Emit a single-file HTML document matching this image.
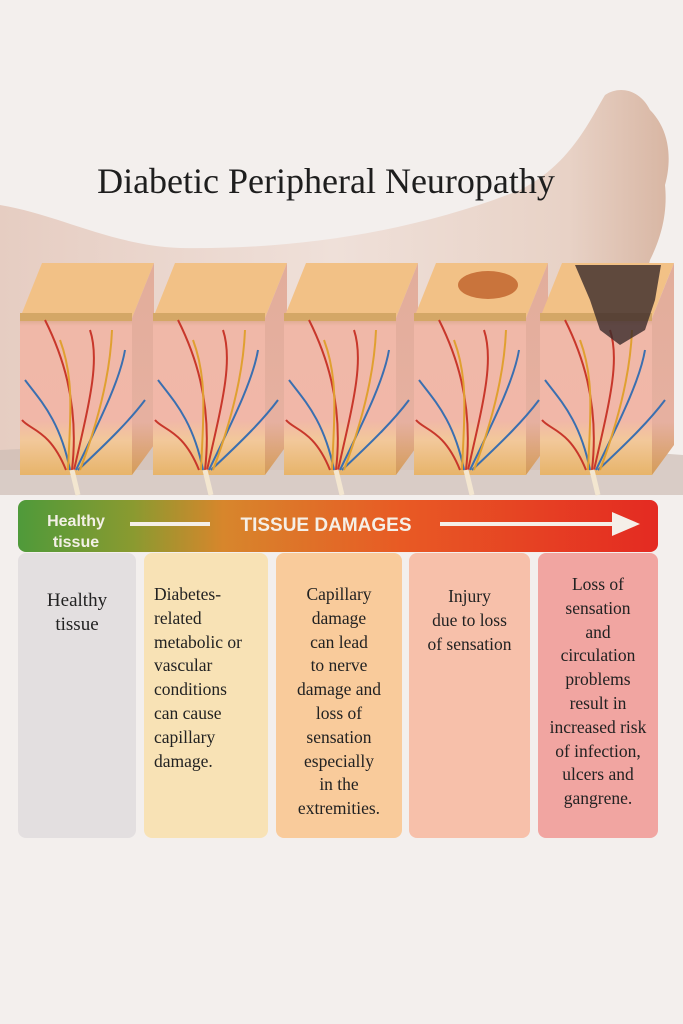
<!DOCTYPE html>
<html><head><meta charset="utf-8"><style>
html,body{margin:0;padding:0}
body{width:683px;height:1024px;background:#f3efed;position:relative;overflow:hidden;font-family:"Liberation Serif",serif}
.col{position:absolute;top:553px;height:285px;border-radius:8px;color:#222;font-size:17.5px;line-height:23.8px;text-align:center;box-sizing:border-box}
.col div{position:absolute;left:0;right:0}
</style></head><body>
<svg width="683" height="1024" style="position:absolute;left:0;top:0">
<defs>
<linearGradient id="skin" x1="0" y1="0" x2="1" y2="0"><stop offset="0" stop-color="#e6cdc2"/><stop offset="0.5" stop-color="#efe0d9"/><stop offset="0.85" stop-color="#e8d2c6"/><stop offset="1" stop-color="#d8b6a3"/></linearGradient>
<linearGradient id="front" x1="0" y1="0" x2="0" y2="1"><stop offset="0" stop-color="#d9a78a"/><stop offset="0.05" stop-color="#f0b8a8"/><stop offset="0.65" stop-color="#f1b7a8"/><stop offset="0.78" stop-color="#f2c89a"/><stop offset="1" stop-color="#e7b46a"/></linearGradient>
<linearGradient id="side" x1="0" y1="0" x2="0" y2="1"><stop offset="0" stop-color="#e2ad9b"/><stop offset="0.75" stop-color="#e6b0a0"/><stop offset="1" stop-color="#d49c58"/></linearGradient>
<linearGradient id="bar" x1="0" y1="0" x2="1" y2="0"><stop offset="0" stop-color="#4f9a3a"/><stop offset="0.18" stop-color="#8a9a30"/><stop offset="0.32" stop-color="#d7862c"/><stop offset="0.6" stop-color="#e85a24"/><stop offset="1" stop-color="#e42a22"/></linearGradient>
<g id="ves" fill="none" stroke-width="2">
<path d="M70 470 C60 420 40 400 25 380" stroke="#3a6fb0"/>
<path d="M72 470 C80 400 60 350 45 320" stroke="#c8372b"/>
<path d="M74 470 C90 400 100 360 90 330" stroke="#c8372b"/>
<path d="M76 470 C100 420 120 380 125 350" stroke="#3a6fb0"/>
<path d="M78 470 C110 440 130 420 145 400" stroke="#3a6fb0"/>
<path d="M68 470 C70 420 75 380 60 340" stroke="#e0a030"/>
<path d="M80 470 C95 430 110 380 112 330" stroke="#e0a030"/>
<path d="M66 470 C50 430 30 430 22 420" stroke="#c8372b"/>
<path d="M72 470 L78 495" stroke="#f3e6d0" stroke-width="5"/>
</g>
</defs>
<path d="M0 205 C60 215 110 245 180 248 C300 250 420 230 520 190 C570 165 590 120 605 95 C620 85 640 90 650 110 C670 130 672 160 665 185 C668 215 660 240 650 260 L640 300 L640 470 L0 470 Z" fill="url(#skin)"/>
<path d="M0 450 C200 440 480 440 683 455 L683 495 L0 495 Z" fill="#cdbdb5" opacity="0.7"/>
<text x="326" y="193" text-anchor="middle" font-family="Liberation Serif, serif" font-size="36" fill="#1e1e1e">Diabetic Peripheral Neuropathy</text>
<g id="b1">
<polygon points="20,318 42,263 154,263 132,318" fill="#f2c186"/>
<polygon points="132,318 154,263 154,445 132,475" fill="url(#side)"/>
<rect x="20" y="318" width="112" height="157" fill="url(#front)"/>
<rect x="20" y="313" width="112" height="8" fill="#d4a766"/>
<use href="#ves"/>
</g>
<use href="#b1" x="133"/>
<use href="#b1" x="264"/>
<use href="#b1" x="394"/>
<use href="#b1" x="520"/>
<ellipse cx="488" cy="285" rx="30" ry="14" fill="#b8521c" opacity="0.7"/>
<path d="M575 265 L661 265 L655 300 L645 330 L620 345 L600 330 L590 300 Z" fill="#3a2a2a" opacity="0.8"/>
<rect x="18" y="500" width="640" height="52" rx="8" fill="url(#bar)"/>
<rect x="130" y="522" width="80" height="4" fill="#f5efe8"/>
<rect x="440" y="522" width="175" height="4" fill="#f5efe8"/>
<polygon points="612,512 640,524 612,536" fill="#f5efe8"/>
<text x="76" y="526" text-anchor="middle" font-family="Liberation Sans, sans-serif" font-weight="bold" font-size="16" fill="#f3f0e6">Healthy</text>
<text x="76" y="547" text-anchor="middle" font-family="Liberation Sans, sans-serif" font-weight="bold" font-size="16" fill="#f3f0e6">tissue</text>
<text x="326" y="531" text-anchor="middle" font-family="Liberation Sans, sans-serif" font-weight="bold" font-size="19" fill="#f5efe6">TISSUE DAMAGES</text>
</svg>
<div class="col" style="left:18px;width:118px;background:#e3dfe0;font-size:19px"><div style="top:36px">Healthy<br>tissue</div></div>
<div class="col" style="left:144px;width:124px;background:#f8e2b5;text-align:left"><div style="top:30px;left:10px">Diabetes-<br>related<br>metabolic or<br>vascular<br>conditions<br>can cause<br>capillary<br>damage.</div></div>
<div class="col" style="left:276px;width:126px;background:#f9cb9b"><div style="top:30px">Capillary<br>damage<br>can lead<br>to nerve<br>damage and<br>loss of<br>sensation<br>especially<br>in the<br>extremities.</div></div>
<div class="col" style="left:409px;width:121px;background:#f7c0aa"><div style="top:32px">Injury<br>due to loss<br>of sensation</div></div>
<div class="col" style="left:538px;width:120px;background:#f1a5a1"><div style="top:20px">Loss of<br>sensation<br>and<br>circulation<br>problems<br>result in<br>increased risk<br>of infection,<br>ulcers and<br>gangrene.</div></div>
</body></html>
